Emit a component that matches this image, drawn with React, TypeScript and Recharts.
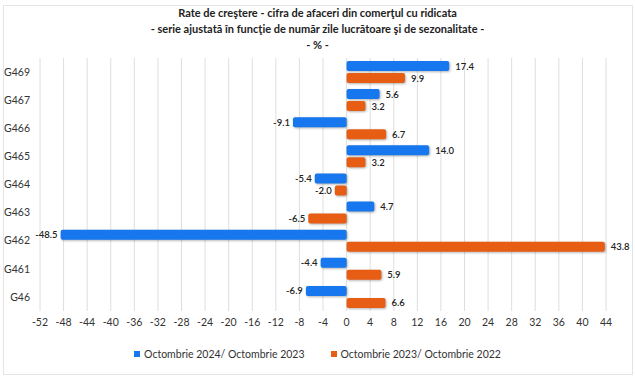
import React from "react";
import { BarChart, Bar, XAxis, YAxis, CartesianGrid, LabelList } from "recharts";

const categories = ["G469", "G467", "G466", "G465", "G464", "G463", "G462", "G461", "G46"];
const series2024 = [17.4, 5.6, -9.1, 14.0, -5.4, 4.7, -48.5, -4.4, -6.9];
const series2023 = [9.9, 3.2, 6.7, 3.2, -2.0, -6.5, 43.8, 5.9, 6.6];
const xTicks = [-52, -48, -44, -40, -36, -32, -28, -24, -20, -16, -12, -8, -4, 0, 4, 8, 12, 16, 20, 24, 28, 32, 36, 40, 44];
const seriesNames = ["Octombrie 2024/ Octombrie 2023", "Octombrie 2023/ Octombrie 2022"];
const titleLines = [
  "Rate de creştere - cifra de afaceri din comerţul cu ridicata",
  "- serie ajustată în funcţie de număr zile lucrătoare şi de sezonalitate -",
  "- % -",
];

const BLUE = "#1677ee";
const ORANGE = "#e85d14";
const FONT = "Lato, 'Open Sans', sans-serif";

const data = categories.map((c, i) => ({ cat: c, a: series2024[i], b: series2023[i] }));

const ValueLabel = (props: any) => {
  const { x, y, width, height, value } = props;
  const x1 = Math.min(x, x + width);
  const x2 = Math.max(x, x + width);
  const neg = value < 0;
  return (
    <text
      x={neg ? x1 - 3 : x2 + 6}
      y={y + height / 2}
      textAnchor={neg ? "end" : "start"}
      dominantBaseline="central"
      fontSize={9.5}
      fontWeight={600}
      fill="#222"
      fontFamily={FONT}
    >
      {Number(value).toFixed(1)}
    </text>
  );
};

export default function App() {
  return (
    <div
      style={{
        position: "fixed",
        left: 0,
        top: 0,
        width: 635,
        height: 379,
        background: "#fff",
        fontFamily: FONT,
      }}
    >
      <div style={{ position: "absolute", left: 3, top: 5, width: 628, height: 368, border: "1px solid #e4e4e4" }} />
      <div style={{ position: "absolute", left: 0, top: 5, width: 635, textAlign: "center", color: "#222", fontWeight: 700, fontSize: 11, lineHeight: "16px" }}>
        {titleLines.map((t, i) => (
          <div key={i}>{t}</div>
        ))}
      </div>
      <div style={{ position: "absolute", left: 0, top: 0 }}>
        <BarChart
          width={635}
          height={379}
          data={data}
          layout="vertical"
          margin={{ top: 58, right: 29, bottom: 48, left: 0 }}
          barSize={10}
          barGap={2}
        >
          <CartesianGrid horizontal={false} stroke="#dedede" />
          <XAxis
            type="number"
            domain={[-52, 44]}
            ticks={xTicks}
            interval={0}
            axisLine={false}
            tickLine={false}
            height={20}
            tick={{ fontSize: 10.5, fill: "#333", fontFamily: FONT }}
          />
          <YAxis
            type="category"
            dataKey="cat"
            width={40}
            axisLine={false}
            tickLine={false}
            tick={{ fontSize: 10.5, fill: "#333", fontFamily: FONT, dx: -2 }}
          />
          <Bar dataKey="a" fill={BLUE} radius={2} isAnimationActive={false} style={{ filter: "drop-shadow(1px 1px 1px rgba(0,0,0,0.3))" }}>
            <LabelList dataKey="a" content={ValueLabel} />
          </Bar>
          <Bar dataKey="b" fill={ORANGE} radius={2} isAnimationActive={false} style={{ filter: "drop-shadow(1px 1px 1px rgba(0,0,0,0.3))" }}>
            <LabelList dataKey="b" content={ValueLabel} />
          </Bar>
        </BarChart>
      </div>
      <div style={{ position: "absolute", left: 0, top: 348, width: 635, display: "flex", justifyContent: "center", gap: 26, fontSize: 10.5, color: "#333" }}>
        {seriesNames.map((n, i) => (
          <div key={i} style={{ display: "flex", alignItems: "center" }}>
            <span style={{ display: "inline-block", width: 6, height: 6, background: i === 0 ? BLUE : ORANGE, marginRight: 4 }} />
            <span>{n}</span>
          </div>
        ))}
      </div>
    </div>
  );
}
